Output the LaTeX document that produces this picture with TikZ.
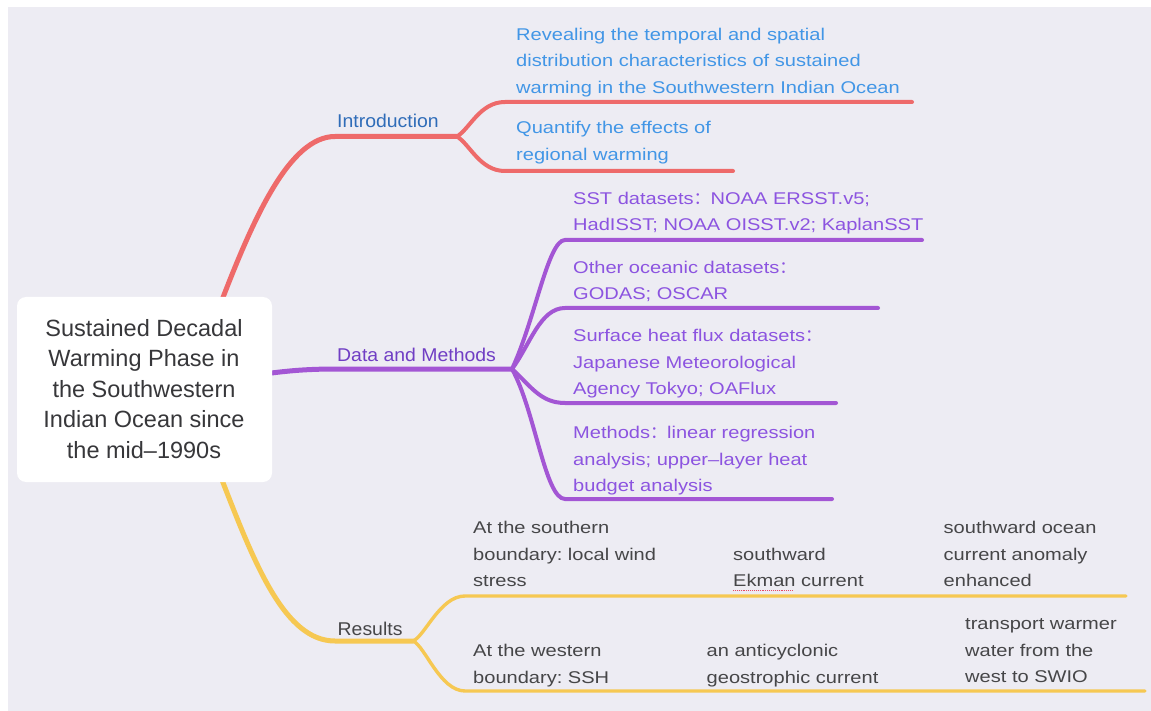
\documentclass[tikz,border=0pt]{standalone}
\usepackage{fontspec}
\setmainfont{Liberation Sans}
\newfontfamily\chfont[FakeStretch=1.18]{Liberation Sans}
\newfontfamily\brfont[FakeStretch=1.05]{Liberation Sans}
\newfontfamily\cjk{Noto Sans CJK SC}
\definecolor{bgc}{RGB}{237,236,243}
\definecolor{redc}{RGB}{238,106,106}
\definecolor{purc}{RGB}{163,86,212}
\definecolor{yelc}{RGB}{246,200,82}
\definecolor{introc}{RGB}{47,108,184}
\definecolor{bluec}{RGB}{66,150,230}
\definecolor{datac}{RGB}{112,62,196}
\definecolor{violc}{RGB}{140,84,224}
\definecolor{grayc}{RGB}{70,70,72}
\definecolor{rootc}{RGB}{55,55,58}
\definecolor{spellc}{RGB}{232,70,100}
\tikzset{
  rootbox/.style={fill=white, rounded corners=9pt, draw=none, inner sep=0pt},
  roottext/.style={font=\fontsize{23.5}{30.5}\selectfont, text=rootc, align=center, inner sep=0pt, anchor=north},
  brlabel/.style={font=\brfont\fontsize{18.5}{22}\selectfont, inner sep=0pt, anchor=base west},
  childtext/.style={font=\chfont\fontsize{17}{26.5}\selectfont, inner sep=0pt, anchor=north west, align=left},
  mainline/.style={line width=5pt, line cap=round},
  subline/.style={line width=4pt, line cap=round},
  yline/.style={line width=3.4pt, line cap=round},
}
\begin{document}
\frenchspacing
\begin{tikzpicture}[x=1pt,y=-1pt]
\useasboundingbox (0,0) rectangle (1151,711);
\fill[white] (0,0) rectangle (1151,711);
\fill[bgc] (7.5,7.5) rectangle (1151,711);

% coordinates
\coordinate (rs) at (222,300);
\coordinate (rb) at (335,136.5);
\coordinate (rj) at (457,136.5);
\coordinate (r1a) at (505,102);
\coordinate (r1b) at (912,102);
\coordinate (r2a) at (505,171);
\coordinate (r2b) at (733,171);

\coordinate (ps) at (250,376);
\coordinate (pb) at (340,369);
\coordinate (pj) at (512,369);
\coordinate (p1a) at (565,240);
\coordinate (p1b) at (922,240);
\coordinate (p2a) at (565,308);
\coordinate (p2b) at (878,308);
\coordinate (p3a) at (565,403);
\coordinate (p3b) at (836,403);
\coordinate (p4a) at (565,499);
\coordinate (p4b) at (832,499);

\coordinate (ys) at (222,480);
\coordinate (yb) at (335,641);
\coordinate (yj) at (413,641);
\coordinate (y1a) at (465,596);
\coordinate (y1b) at (1126,596);
\coordinate (y2a) at (465,691);
\coordinate (y2b) at (1145,691);

% red branch
\draw[redc, mainline] (rs) .. controls +(32,-83) and +(-45,0) .. (rb) -- (rj);
\draw[redc, subline] (rj) .. controls +(13,-8) and +(-25,0) .. (r1a) -- (r1b);
\draw[redc, subline] (rj) .. controls +(13,8) and +(-25,0) .. (r2a) -- (r2b);

% purple branch
\draw[purc, mainline] (ps) .. controls +(40,-6) and +(-30,0) .. (pb) -- (pj);
\draw[purc, subline] (pj) .. controls +(23,-49) and +(-17,0) .. (p1a) -- (p1b);
\draw[purc, subline] (pj) .. controls +(18,-24) and +(-25,0) .. (p2a) -- (p2b);
\draw[purc, subline] (pj) .. controls +(18,16) and +(-25,0) .. (p3a) -- (p3b);
\draw[purc, subline] (pj) .. controls +(23,41) and +(-20,0) .. (p4a) -- (p4b);

% yellow branch
\draw[yelc, mainline] (ys) .. controls +(33,85) and +(-50,0) .. (yb) -- (yj);
\draw[yelc, yline] (yj) .. controls +(12,-5) and +(-25,0) .. (y1a) -- (y1b);
\draw[yelc, yline] (yj) .. controls +(12,5) and +(-25,0) .. (y2a) -- (y2b);

% root
\node[rootbox, minimum width=255pt, minimum height=185pt] (root) at (144.5,389.5) {};
\node[roottext] (roottitle) at (144,314.65) {\strut Sustained Decadal\\Warming Phase in\\the Southwestern\\Indian Ocean since\\the mid–1990s};

% branch labels
\node[brlabel, text=introc] (intro) at (337,128) {Introduction};
\node[brlabel, text=datac] (data) at (337,361.5) {Data and Methods};
\node[brlabel, text=grayc] (res) at (337.5,635) {Results};

% introduction children
\node[childtext, text=bluec] (i1) at (516,21.45) {\strut Revealing the temporal and spatial\\distribution characteristics of sustained\\warming in the Southwestern Indian Ocean};
\node[childtext, text=bluec] (i2) at (516,114.95) {\strut Quantify the effects of\\regional warming};

% data children
\node[childtext, text=violc] (d1) at (573,185.45) {\strut SST datasets{\cjk ：}NOAA ERSST.v5;\\HadISST; NOAA OISST.v2; KaplanSST};
\node[childtext, text=violc] (d2) at (573,254.75) {\strut Other oceanic datasets{\cjk ：}\\GODAS; OSCAR};
\node[childtext, text=violc] (d3) at (573,323.15) {\strut Surface heat flux datasets{\cjk ：}\\Japanese Meteorological\\Agency Tokyo; OAFlux};
\node[childtext, text=violc] (d4) at (573,419.75) {\strut Methods{\cjk ：}linear regression\\analysis; upper–layer heat\\budget analysis};

% results children
\node[childtext, text=grayc] (s1) at (473,514.75) {\strut At the southern\\boundary: local wind\\stress};
\node[childtext, text=grayc] (s2) at (733,541.45) {\strut southward\\Ekman current};
\node[childtext, text=grayc] (s3) at (943.5,514.75) {\strut southward ocean\\current anomaly\\enhanced};
\node[childtext, text=grayc] (w1) at (473,638.15) {\strut At the western\\boundary: SSH};
\node[childtext, text=grayc] (w2) at (706.5,638.15) {\strut an anticyclonic\\geostrophic current};
\node[childtext, text=grayc] (w3) at (965,610.75) {\strut transport warmer\\water from the\\west to SWIO};

% spell-check mark under "Ekman"
\draw[spellc, densely dotted, line width=0.9pt] (733,590.5) -- (793,590.5);
\end{tikzpicture}
\end{document}
